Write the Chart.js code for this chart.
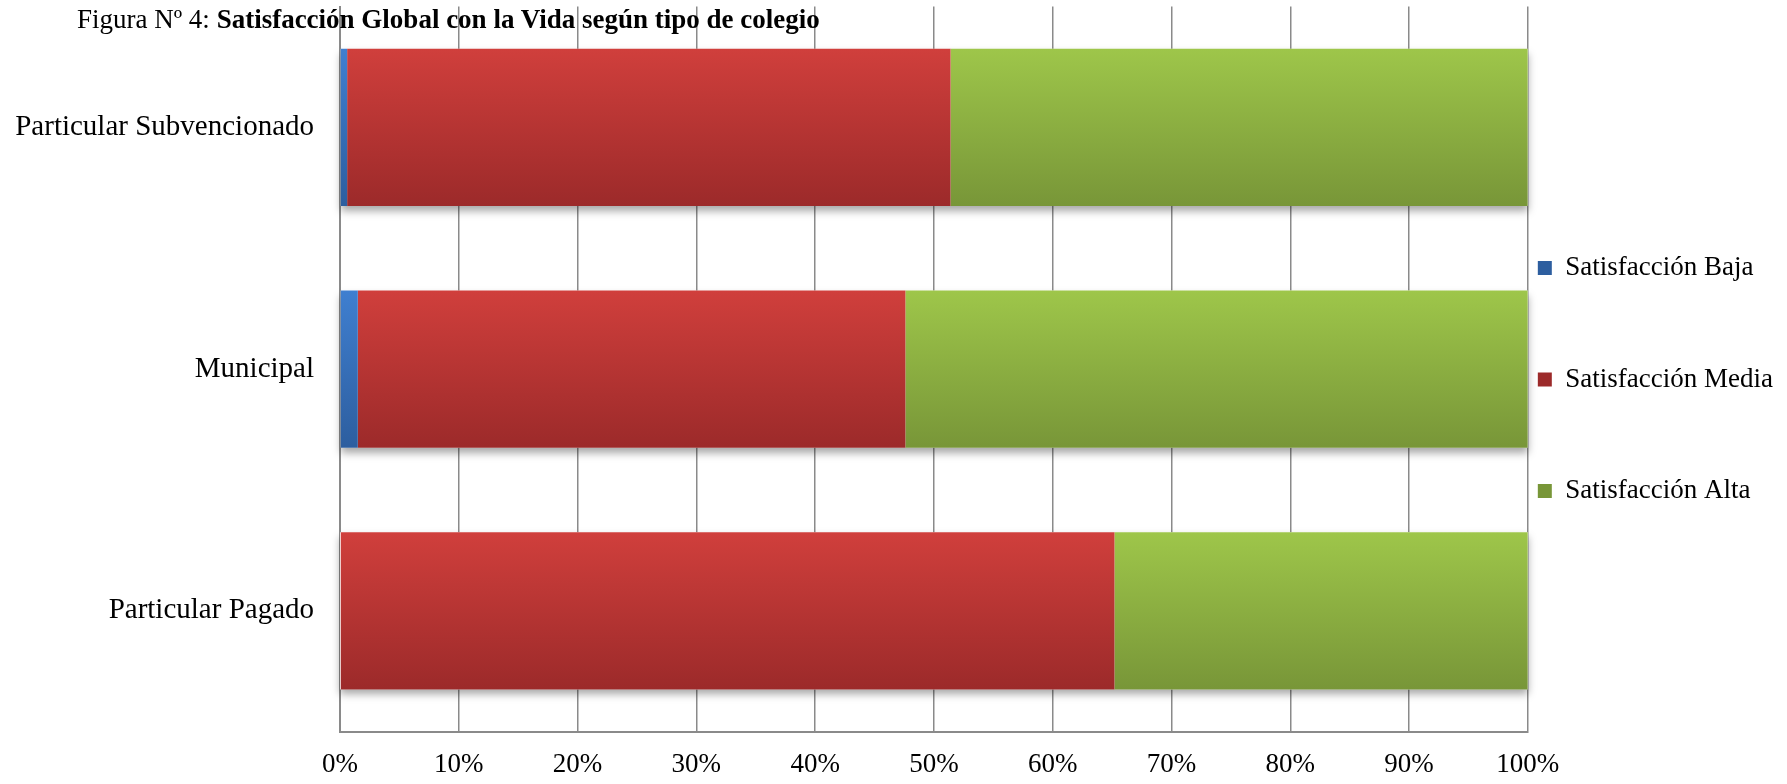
<!DOCTYPE html>
<html>
<head>
<meta charset="utf-8">
<script src="https://cdn.jsdelivr.net/npm/chart.js@4"></script>
<style>
  body { margin: 0; background: #fff; }
  #wrap { position: relative; width: 1787px; height: 784px; }
  #title {
    position: absolute; left: 77px; top: 6px;
    font-family: 'Liberation Serif', 'Times New Roman', serif;
    font-size: 27px; line-height: 27px; color: #000; white-space: nowrap;
  }
</style>
</head>
<body>
<div id="wrap">
  <canvas id="satChart" width="1787" height="784"></canvas>
  <div id="title">Figura Nº 4: <b>Satisfacción Global con la Vida según tipo de colegio</b></div>
</div>
<script>
// data (percent of students per school type)
var categories = ["Particular Subvencionado", "Municipal", "Particular Pagado"];
var seriesNames = ["Satisfacción Baja", "Satisfacción Media", "Satisfacción Alta"];
var bajaValues = [0.6, 1.5, 0];
var mediaValues = [50.8, 46.1, 65.2];
var altaValues = [48.6, 52.4, 34.8];
var xTicks = [0, 10, 20, 30, 40, 50, 60, 70, 80, 90, 100];

var serif = "'Liberation Serif', 'Times New Roman', serif";
var barShare = 0.65;

// vertical gradient per bar, like the office chart style
function barFill(top, mid, bottom) {
    return function (c) {
        var chart = c.chart;
        var y = chart.scales.y;
        if (c.type !== 'data' || !y || !chart.chartArea) return mid;
        var centre = y.getPixelForValue(c.dataIndex);
        var half = (y.height / categories.length) * barShare / 2;
        var g = chart.ctx.createLinearGradient(0, centre - half, 0, centre + half);
        g.addColorStop(0, top);
        g.addColorStop(1, bottom);
        return g;
    };
}

// soft shadow under each whole stacked bar
var barShadow = {
    id: 'barShadow',
    beforeDatasetsDraw: function (chart) {
        var ctx = chart.ctx;
        var metas = chart.getSortedVisibleDatasetMetas();
        categories.forEach(function (cat, i) {
            var left = Infinity, right = -Infinity, top = 0, h = 0;
            metas.forEach(function (m) {
                var el = m.data[i];
                if (!el) return;
                left = Math.min(left, el.x, el.base);
                right = Math.max(right, el.x, el.base);
                top = el.y - el.height / 2;
                h = el.height;
            });
            ctx.save();
            ctx.shadowColor = 'rgba(0,0,0,0.35)';
            ctx.shadowBlur = 8;
            ctx.shadowOffsetY = 5;
            ctx.fillStyle = '#fff';
            ctx.fillRect(left, top, right - left, h);
            ctx.restore();
        });
    }
};

Chart.defaults.color = '#000';
Chart.defaults.font.family = serif;

var ctxB = document.getElementById("satChart").getContext('2d');
var satChart = new Chart(ctxB, {
    type: 'bar',
    data: {
        labels: categories,
        datasets: [
            {
                label: seriesNames[0],
                data: bajaValues,
                backgroundColor: barFill('#3F7FD0', '#376EB8', '#2D5E9F')
            },
            {
                label: seriesNames[1],
                data: mediaValues,
                backgroundColor: barFill('#D03F3C', '#B83434', '#9C2A2A')
            },
            {
                label: seriesNames[2],
                data: altaValues,
                backgroundColor: barFill('#9EC64A', '#8BAE43', '#789638')
            }
        ]
    },
    options: {
        indexAxis: 'y',
        responsive: false,
        devicePixelRatio: 1,
        animation: false,
        barPercentage: barShare,
        categoryPercentage: 1,
        layout: { padding: { top: 6.5, right: 4, left: 0, bottom: 0 } },
        scales: {
            x: {
                stacked: true,
                min: 0,
                max: 100,
                afterBuildTicks: function (s) { s.ticks = xTicks.map(function (v) { return { value: v }; }); },
                afterFit: function (s) { s.height = 52.3; },
                ticks: {
                    padding: 17,
                    font: { size: 27, family: serif },
                    callback: function (v) { return v + '%'; }
                },
                grid: { color: '#8a8a8a', lineWidth: 1.5, drawTicks: false },
                border: { color: '#8a8a8a', width: 2 }
            },
            y: {
                stacked: true,
                afterFit: function (s) { s.width = 340; s.paddingTop = 0; s.paddingBottom = 0; },
                ticks: { padding: 26, font: { size: 29, family: serif } },
                grid: { display: false, drawTicks: false },
                border: { color: '#8a8a8a', width: 2 }
            }
        },
        plugins: {
            tooltip: { enabled: false },
            legend: {
                position: 'right',
                align: 'start',
                title: { display: true, text: '', padding: 0, font: { size: 10, lineHeight: '238px' } },
                labels: {
                    boxWidth: 14,
                    boxHeight: 14,
                    padding: 10,
                    font: { size: 27, family: serif, lineHeight: '101.5px' },
                    generateLabels: function (chart) {
                        return Chart.defaults.plugins.legend.labels.generateLabels(chart).map(function (it) {
                            it.text = [it.text];
                            it.lineWidth = 0;
                            return it;
                        });
                    }
                }
            }
        }
    },
    plugins: [barShadow]
});
</script>
</body>
</html>
